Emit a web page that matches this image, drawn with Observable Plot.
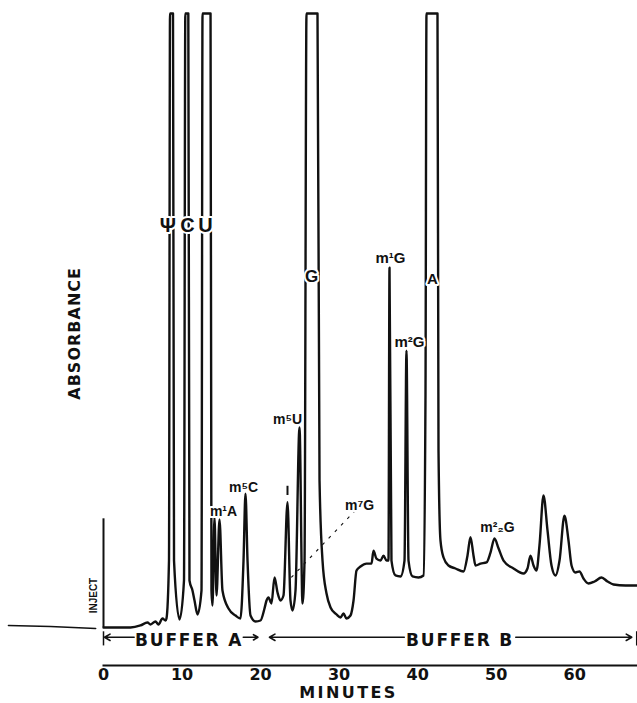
<!DOCTYPE html>
<html><head><meta charset="utf-8">
<script src="https://cdn.jsdelivr.net/npm/d3@7"></script>
<script src="https://cdn.jsdelivr.net/npm/@observablehq/plot@0.6"></script>
<style>
body{margin:0;background:#fff;}
</style>
</head><body><div id="chart"></div>
<script>
// ---- Data ----
// Absorbance in arbitrary units; 100 = top of recorder (off-scale peaks are truncated there)
const traceMinutes = [0,3.44,4.71,5.60,5.99,6.62,7.00,7.51,7.90,8.02,8.34,8.47,8.85,8.98,9.68,
  10.25,10.42,10.80,10.95,11.33,11.59,11.97,12.48,12.61,13.63,13.75,13.88,14.13,14.39,14.77,15.15,
  15.92,16.81,17.44,17.83,18.08,18.34,18.72,19.36,19.99,20.50,20.76,21.01,21.39,21.78,22.16,22.54,
  22.92,23.43,23.81,24.07,24.45,24.96,25.34,25.60,25.85,27.25,27.51,27.89,28.40,28.91,29.67,30.18,
  30.56,30.94,31.45,31.84,32.22,32.73,33.49,34.13,34.38,34.76,35.27,35.66,36.04,36.29,36.42,36.67,
  37.18,37.82,38.33,38.58,38.84,39.35,40.11,40.75,41.00,41.13,42.53,42.66,42.91,43.30,43.93,44.82,
  45.84,46.35,46.73,47.12,47.37,48.01,48.77,49.28,49.79,50.30,50.94,52.21,53.48,53.99,54.37,54.76,
  55.14,55.52,56.03,56.54,57.05,57.56,58.07,58.70,59.21,59.60,60.10,60.61,61.12,61.76,62.53,63.42,
  64.18,64.94,66.47,68.00];
const traceAbsorbance = [0,0,0.33,0.81,0.49,0.98,0.49,1.47,1.14,1.47,10.9,100,100,10.9,1.30,
  7.65,100,100,7.65,6.03,4.40,2.12,6.03,100,100,6.03,3.58,17.9,5.21,17.6,6.03,
  3.09,1.95,1.47,10.9,21.8,10.9,1.95,0.98,1.14,3.09,4.40,4.89,3.91,8.14,5.70,4.40,
  5.21,20.4,4.40,2.77,6.03,32.6,3.91,10.9,100,100,23.9,10.9,5.54,3.26,2.12,1.63,
  2.28,1.47,1.95,4.40,9.28,9.93,10.4,10.4,12.5,11.2,10.9,11.7,10.9,10.9,58.6,10.9,
  8.47,8.31,10.9,45.1,10.9,8.31,8.14,8.47,37.0,100,100,28.8,14.2,11.4,10.1,9.61,
  9.12,11.7,14.7,11.7,10.1,10.4,10.6,12.2,14.5,12.9,10.9,9.61,8.79,9.61,11.7,10.1,
  9.28,13.4,21.5,15.8,10.1,8.47,10.9,18.2,14.2,10.1,8.96,9.12,7.98,7.17,7.49,8.14,
  7.49,7.00,6.84,6.84];
const preInjectMinutes = [-12.1, -6.75, -1.0];
const preInjectAbsorbance = [0.33, 0.16, -0.16];
const injectMinute = 0, injectTop = 17.7;

const peakNames = ["Ψ","C","U","G","m¹G","A","m²G","m⁵U","m⁵C","m¹A","m⁷G","m²₂G"];
const peakLabelMinutes = [8.20,10.70,12.99,26.49,36.55,41.90,38.97,23.43,17.83,15.28,32.60,50.17];
const peakLabelAbsorbance = [65.5,65.5,65.5,57.2,60.1,56.8,46.4,33.9,22.8,18.9,19.9,16.3];
// m7G leader (label -> peak)
const m7gLeader = {fromMin: 32.1, fromAbs: 19.1, toMin: 23.8, toAbs: 8.0};
// small marker above the 23.4 min peak
const markerMin = 23.43, markerFrom = 21.5, markerTo = 23.0;

const bufferNames = ["BUFFER A", "BUFFER B"];
const bufferStart = [0, 21.0];
const bufferEnd = [19.8, 67.4];
const bufferLabelAt = [10.9, 45.4];
const bufferLabelFrom = [3.9, 38.3];   // where the lettering interrupts the arrow
const bufferLabelTo = [17.8, 52.5];
const bufferBounds = [0, 67.9];

const xTicks = [0, 10, 20, 30, 40, 50, 60];
const xDomain = [0, 68];
const yDomain = [-6.19, 100];

// ---- Build tables ----
const trace = traceMinutes.map((m, i) => ({min: m, abs: traceAbsorbance[i]}));
const pre = preInjectMinutes.map((m, i) => ({min: m, abs: preInjectAbsorbance[i]}));
const labels = peakNames.map((n, i) => ({name: n, min: peakLabelMinutes[i], abs: peakLabelAbsorbance[i]}));
const buffers = bufferNames.map((n, i) => ({name: n, start: bufferStart[i], end: bufferEnd[i], at: bufferLabelAt[i],
  from: bufferLabelFrom[i], to: bufferLabelTo[i]}));
const arrows = buffers.flatMap(b => [{x1: b.from, x2: b.start}, {x1: b.to, x2: b.end}]);

const ink = "#111";
const wide = "'DejaVu Sans', Verdana, sans-serif";
const arrowY = -1.6, bufferTextY = -2.15;
const sizeFor = n => (["Ψ","C","U"].includes(n) ? 20 : n === "G" ? 17 : ["A","m¹G","m²G"].includes(n) ? 15 : 14);

const chart = Plot.plot({
  width: 637,
  height: 703,
  marginLeft: 103,
  marginRight: 0,
  marginTop: 13,
  marginBottom: 38,
  style: {fontFamily: "'Liberation Sans', Arial, sans-serif", background: "white", color: ink},
  x: {domain: xDomain, axis: null},
  y: {domain: yDomain, axis: null},
  marks: [
    Plot.frame({anchor: "bottom", stroke: ink, strokeWidth: 2}),
    Plot.axisX({ticks: xTicks, tickSize: 0, tickPadding: 3, fontSize: 16, fontWeight: "bold", fontFamily: wide, label: null, fill: ink}),
    Plot.text(["MINUTES"], {x: () => 31.2, frameAnchor: "bottom", dy: 32, fontSize: 16, fontWeight: "bold", fontFamily: wide, fill: ink}),
    Plot.text(["ABSORBANCE"], {x: () => -3.7, y: () => 47.9, rotate: -90, fontSize: 16, fontWeight: "bold", fontFamily: wide, fill: ink}),
    // pre-injection baseline
    Plot.line(pre, {x: "min", y: "abs", stroke: ink, strokeWidth: 1.6}),
    // inject marker
    Plot.ruleX([injectMinute], {y1: 0, y2: injectTop, stroke: ink, strokeWidth: 2}),
    Plot.text(["INJECT"], {x: () => injectMinute, y: () => 5.2, dx: -10, rotate: -90, fontSize: 10, fontWeight: "bold", fill: ink}),
    // chromatogram
    Plot.line(trace, {x: "min", y: "abs", curve: "monotone-x", stroke: ink, strokeWidth: 2.4, strokeLinejoin: "round"}),
    Plot.ruleX([markerMin], {y1: markerFrom, y2: markerTo, stroke: ink, strokeWidth: 2}),
    Plot.link([m7gLeader], {x1: "fromMin", y1: "fromAbs", x2: "toMin", y2: "toAbs", stroke: ink, strokeWidth: 1.1, strokeDasharray: "3,6"}),
    // peak labels
    Plot.text(labels, {x: "min", y: "abs", text: "name", fontSize: d => sizeFor(d.name), fontWeight: "bold", fill: ink, stroke: "white", strokeWidth: 4, paintOrder: "stroke"}),
    // buffers
    Plot.arrow(arrows, {x1: "x1", x2: "x2", y1: () => arrowY, y2: () => arrowY, stroke: ink, strokeWidth: 1.6, headLength: 6, insetEnd: 1}),
    Plot.ruleX(bufferBounds, {y1: -0.7, y2: -3.0, stroke: ink, strokeWidth: 1.5}),
    Plot.text(buffers, {x: "at", y: () => bufferTextY, text: "name", fontSize: 17, fontWeight: "bold", fontFamily: wide, fill: ink})
  ]
});
document.getElementById("chart").appendChild(chart);
// letter spacing for the wide lettering of the original
const spacing = {"BUFFER A": "1.8px", "BUFFER B": "1.8px", "MINUTES": "2.4px", "ABSORBANCE": "1px"};
d3.select(chart).selectAll("text").each(function() {
  const s = spacing[this.textContent];
  if (s) d3.select(this).attr("letter-spacing", s);
});
</script>
</body></html>
